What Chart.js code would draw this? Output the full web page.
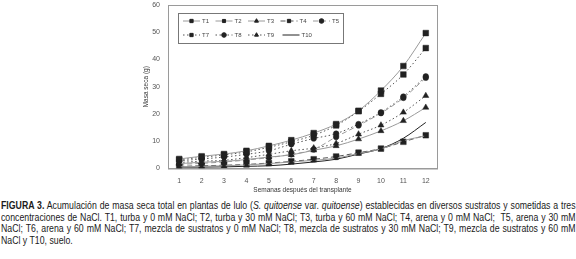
<!DOCTYPE html>
<html>
<head>
<meta charset="utf-8">
<script src="https://cdn.jsdelivr.net/npm/chart.js@4/dist/chart.umd.min.js"></script>
<style>
  body { margin: 0; background: #fff; width: 576px; height: 259px; overflow: hidden; position: relative; }
  #wrap { position: absolute; left: 0; top: 0; width: 576px; height: 194px; }
  #caption {
    position: absolute; left: 1px; top: 200px; width: 756px;
    transform: scaleX(0.76); transform-origin: 0 0;
    font-family: "Liberation Sans", Arial, sans-serif;
    font-size: 11.5px; line-height: 11.7px; color: #1a1a1a;
  }
  #caption div { white-space: nowrap; text-align: justify; text-align-last: justify; }
  #caption div.last { text-align-last: left; }
  #caption b { font-weight: bold; }
</style>
</head>
<body>
<div id="wrap"><canvas id="chart" width="576" height="194"></canvas></div>
<div id="caption">
  <div><b>FIGURA 3.</b> Acumulación de masa seca total en plantas de lulo (<i>S. quitoense</i> var. <i>quitoense</i>) establecidas en diversos sustratos y sometidas a tres</div>
  <div>concentraciones de NaCl. T1, turba y 0 mM NaCl; T2, turba y 30 mM NaCl; T3, turba y 60 mM NaCl; T4, arena y 0 mM NaCl;&nbsp; T5, arena y 30 mM</div>
  <div>NaCl; T6, arena y 60 mM NaCl; T7, mezcla de sustratos y 0 mM NaCl; T8, mezcla de sustratos y 30 mM NaCl; T9, mezcla de sustratos y 60 mM</div>
  <div class="last">NaCl y T10, suelo.</div>
</div>
<script>
const weeks = ['1', '2', '3', '4', '5', '6', '7', '8', '9', '10', '11', '12'];
const yTicks = [0, 10, 20, 30, 40, 50, 60];

// masa seca (g) por semana
const t1 = [3.5, 4.5, 5.3, 6.5, 8.3, 10.4, 13.0, 16.3, 21.2, 28.6, 37.6, 49.7];
const t2 = [0.6, 0.8, 1.0, 1.3, 1.8, 2.4, 3.0, 3.8, 5.5, 7.2, 10.2, 12.0];
const t3 = [1.8, 2.3, 2.6, 3.3, 4.2, 5.0, 6.7, 8.3, 10.8, 13.8, 17.5, 22.4];
const t4 = [0.8, 1.0, 1.2, 1.5, 2.0, 2.6, 3.4, 4.4, 5.8, 7.3, 9.8, 12.2];
const t5 = [1.5, 1.9, 2.4, 3.1, 4.0, 5.2, 7.0, 11.6, 15.8, 20.3, 25.9, 33.3];
const t7 = [3.2, 4.1, 5.0, 6.1, 7.8, 9.8, 12.2, 15.8, 21.0, 27.4, 34.5, 44.2];
const t8 = [2.8, 3.5, 4.2, 5.2, 6.5, 8.9, 11.0, 12.8, 16.3, 20.6, 26.4, 33.8];
const t9 = [2.2, 2.7, 3.0, 4.0, 5.2, 6.5, 7.5, 9.2, 12.6, 15.9, 20.6, 26.7];
const t10 = [0.5, 0.5, 0.6, 0.8, 1.0, 1.6, 2.4, 3.4, 5.3, 7.3, 11.1, 16.9];

const grey = '#9a9a9a';
const mark = '#222';
const dashed = [5, 3];
const dotted = [1.5, 2.5];
const narrow = '"Liberation Sans", Arial, sans-serif';

function series(label, data, style, dash, radius, color) {
  return {
    label: label,
    data: data,
    borderColor: color || grey,
    borderWidth: 1,
    borderDash: dash,
    pointStyle: style,
    pointRadius: radius,
    pointBackgroundColor: mark,
    pointBorderColor: mark,
    pointBorderWidth: 0.5,
    cubicInterpolationMode: 'monotone',
    fill: false
  };
}

// marco del area de trazado
const frame = {
  id: 'frame',
  afterDraw(chart) {
    const a = chart.chartArea, ctx = chart.ctx;
    ctx.save();
    ctx.strokeStyle = '#9a9a9a';
    ctx.lineWidth = 1;
    ctx.strokeRect(a.left + 0.5, a.top + 0.5, a.right - a.left, a.bottom - a.top);
    ctx.restore();
  }
};

// leyenda con linea + marcador, en dos filas dentro del grafico
const boxLegend = {
  id: 'boxLegend',
  afterDraw(chart) {
    const ctx = chart.ctx;
    ctx.save();
    ctx.strokeStyle = '#777';
    ctx.lineWidth = 1;
    ctx.strokeRect(178.5, 13.5, 165, 30);
    ctx.font = '6px ' + narrow;
    ctx.textBaseline = 'middle';
    chart.data.datasets.forEach((ds, i) => {
      const row = i < 5 ? 0 : 1;
      const col = i < 5 ? i : i - 5;
      const x = 183 + col * 32.5 + (i === 8 ? 2 : 0);
      const y = row === 0 ? 21 : 35;
      ctx.save();
      ctx.strokeStyle = ds.borderColor;
      ctx.setLineDash(ds.borderDash || []);
      ctx.beginPath();
      ctx.moveTo(x, y);
      ctx.lineTo(x + 17, y);
      ctx.stroke();
      ctx.restore();
      if (ds.pointRadius > 0) {
        ctx.fillStyle = mark;
        ctx.strokeStyle = mark;
        Chart.helpers.drawPoint(ctx, { pointStyle: ds.pointStyle, radius: Math.min(ds.pointRadius, 2.3), borderWidth: 0.5 }, x + 8.5, y);
      }
      ctx.fillStyle = '#444';
      ctx.fillText(ds.label, x + 19, y);
    });
    ctx.restore();
  }
};

new Chart(document.getElementById('chart'), {
  type: 'line',
  data: {
    labels: weeks,
    datasets: [
      series('T1', t1, 'rect', [], 4),
      series('T2', t2, 'rect', [], 2.2),
      series('T3', t3, 'triangle', [], 3.5),
      series('T4', t4, 'rect', dashed, 4, '#555'),
      series('T5', t5, 'circle', dashed, 2.8),
      series('T7', t7, 'rect', dotted, 4, '#555'),
      series('T8', t8, 'circle', dotted, 2.8, '#555'),
      series('T9', t9, 'triangle', dotted, 3.5, '#555'),
      series('T10', t10, 'circle', [], 0, '#222')
    ]
  },
  options: {
    responsive: false,
    animation: false,
    layout: { padding: { left: 142, right: 139, top: 5, bottom: 0 } },
    plugins: { legend: { display: false }, tooltip: { enabled: false } },
    scales: {
      x: {
        offset: true,
        grid: { display: false, drawTicks: true, tickLength: 3, offset: true },
        border: { color: '#9a9a9a' },
        ticks: { color: '#555', font: { size: 7, family: narrow }, padding: 5, maxRotation: 0 },
        title: { display: true, text: 'Semanas después del transplante', color: '#333', font: { size: 6.5, family: narrow }, padding: { top: 0, bottom: 0 } },
        afterFit: (axis) => { axis.height = 25.5; axis.paddingLeft = 0; axis.paddingRight = 0; }
      },
      y: {
        min: 0, max: 60,
        afterBuildTicks: (axis) => { axis.ticks = yTicks.map(v => ({ value: v })); },
        grid: { display: false, drawTicks: true, tickLength: 3 },
        border: { color: '#9a9a9a' },
        ticks: { color: '#555', font: { size: 7, family: narrow }, padding: 5 },
        title: { display: true, text: 'Masa seca (g)', color: '#333', font: { size: 6.5, family: narrow }, padding: 0 },
        afterFit: (axis) => { axis.width = 26; axis.paddingTop = 0; axis.paddingBottom = 0; }
      }
    }
  },
  plugins: [frame, boxLegend]
});
</script>
</body>
</html>
